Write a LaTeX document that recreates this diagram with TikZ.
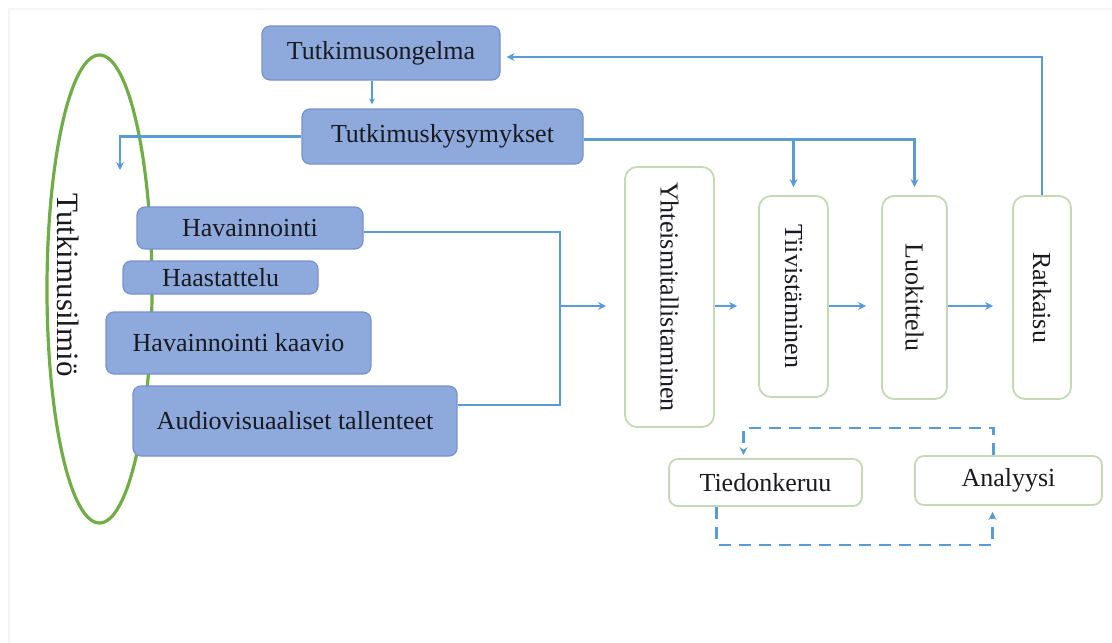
\documentclass[tikz,border=0pt]{standalone}
\usepackage{fontspec}
\setmainfont{Liberation Serif}
\usetikzlibrary{shapes.geometric,arrows.meta}
\definecolor{boxblue}{RGB}{142,169,219}
\definecolor{boxedge}{RGB}{118,146,204}
\definecolor{linkblue}{RGB}{91,155,213}
\definecolor{ovalgreen}{RGB}{112,173,71}
\definecolor{stepedge}{RGB}{198,217,182}
\definecolor{ink}{RGB}{25,25,32}
\definecolor{frameline}{RGB}{244,244,244}
\begin{document}
\begin{tikzpicture}[x=1pt,y=-1pt,
  txt/.style={font=\fontsize{26}{30}\selectfont, text=ink},
  bluebox/.style={txt, draw=boxedge, line width=1.2pt, fill=boxblue,
    rounded corners=8pt, inner sep=0pt},
  stepbox/.style={txt, draw=stepedge, line width=1.8pt, fill=white,
    rounded corners=12pt, inner sep=0pt},
  link/.style={draw=linkblue, line width=2.6pt, -{Stealth[length=8pt,width=8pt]}},
  plain/.style={draw=linkblue, line width=2.6pt},
  dlink/.style={link, dash pattern=on 12pt off 8pt},
  thinlink/.style={draw=linkblue, line width=1.2pt, -{Stealth[length=6pt,width=6pt]}}]
\useasboundingbox (0,0) rectangle (1112,643);

% faint page edge
\draw[frameline, line width=1.5pt] (9,643) -- (9,9) -- (1112,9);

% phenomenon oval with its label
\node[ellipse, draw=ovalgreen, line width=3.2pt, minimum width=105pt,
  minimum height=468pt, inner sep=0pt] (ilmio) at (99.5,289) {};
\node[txt, font=\fontsize{31}{35}\selectfont, rotate=-90] (ilmiotxt) at (68,285) {Tutkimusilmiö};

% research problem and questions
\node[bluebox, minimum width=238pt, minimum height=54pt] (ong) at (381,53) {Tutkimusongelma};
\node[bluebox, minimum width=281pt, minimum height=55pt] (kys) at (442.5,136.5) {Tutkimuskysymykset};

% data collection methods
\node[bluebox, minimum width=226pt, minimum height=42pt] (hav) at (250,228) {Havainnointi};
\node[bluebox, minimum width=195pt, minimum height=33pt] (haa) at (220.5,277.5) {Haastattelu};
\node[bluebox, minimum width=265pt, minimum height=62pt] (kaa) at (238.5,343) {Havainnointi kaavio};
\node[bluebox, minimum width=324pt, minimum height=70pt] (aud) at (295,421) {Audiovisuaaliset tallenteet};

% analysis steps
\node[stepbox, minimum width=89pt, minimum height=260pt] (yht) at (669.5,297) {\rotatebox{-90}{Yhteismitallistaminen}};
\node[stepbox, minimum width=69pt, minimum height=201pt] (tii) at (793.5,296.5) {\rotatebox{-90}{Tiivistäminen}};
\node[stepbox, minimum width=65pt, minimum height=203pt] (luo) at (914.5,297.5) {\rotatebox{-90}{Luokittelu}};
\node[stepbox, minimum width=58pt, minimum height=203pt] (rat) at (1042,297.5) {\rotatebox{-90}{Ratkaisu}};

% collection / analysis cycle
\node[stepbox, rounded corners=9pt, minimum width=193pt, minimum height=47pt] (tied) at (765.5,482.5) {Tiedonkeruu};
\node[stepbox, rounded corners=9pt, minimum width=187pt, minimum height=49pt] (ana) at (1008.5,480.5) {Analyysi};

% connectors
\coordinate (ilmiotop) at (120,170);
\coordinate (merge) at (560,306);

\draw[thinlink, shorten >=4pt] ([xshift=-9pt]ong.south) -- ([xshift=-9pt]ong.south |- kys.north);
\draw[link] (kys.west) -| (ilmiotop);
\draw[link, shorten >=8pt] ([yshift=-3pt]kys.east) -| (luo.north);
\draw[link, shorten >=8pt] ([yshift=-3pt]kys.east -| tii.north) -- (tii.north);
\draw[link, shorten >=6pt] (rat.north) |- ([yshift=-4pt]ong.east);

\draw[plain] ([yshift=-4pt]hav.east) -| (merge);
\draw[plain] ([yshift=16pt]aud.east) -| (merge);
\draw[link, shorten >=18pt] (merge) -- (merge -| yht.west);

\draw[link, shorten >=21pt] (yht.east |- merge) -- (tii.west |- merge);
\draw[link, shorten >=15pt] (tii.east |- merge) -- (luo.west |- merge);
\draw[link, shorten >=19pt] (luo.east |- merge) -- (rat.west |- merge);

\draw[dlink, shorten >=3pt] ([xshift=-15pt]ana.north) -- ++(0,-27) -| ([xshift=-22pt]tied.north);
\draw[dlink, shorten >=6pt] ([xshift=-49pt]tied.south) -- ++(0,38) -| ([xshift=-16pt]ana.south);
\end{tikzpicture}
\end{document}
